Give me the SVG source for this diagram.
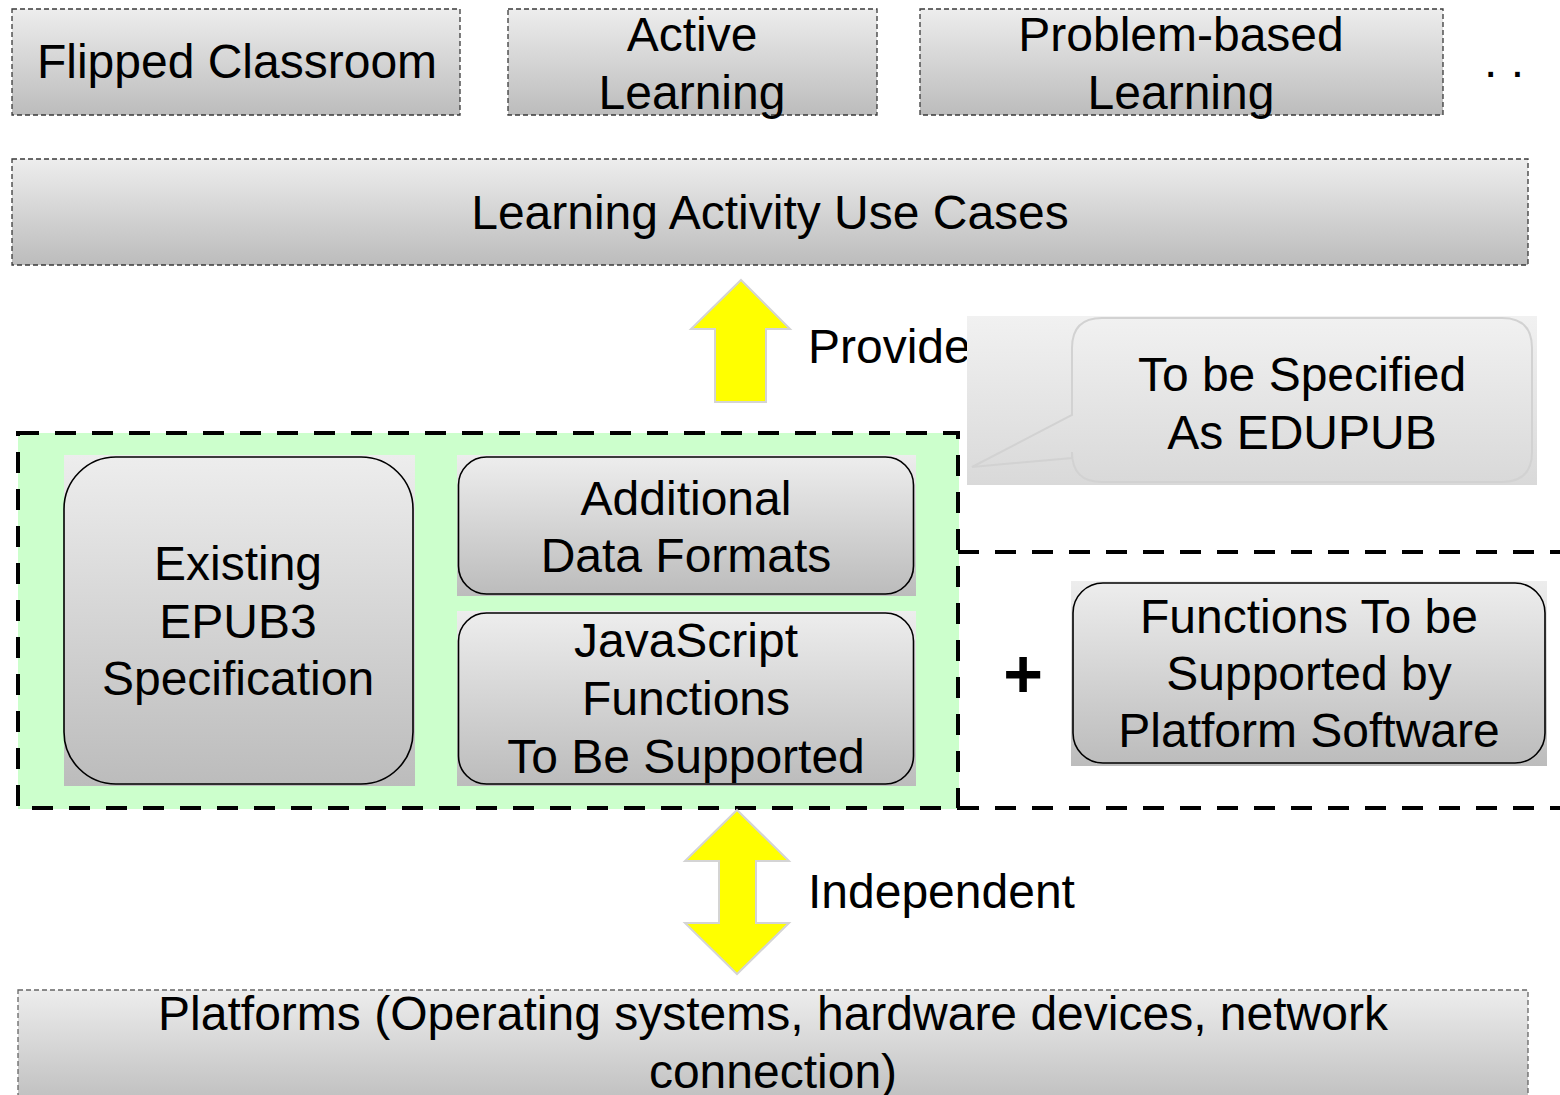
<svg xmlns="http://www.w3.org/2000/svg" width="1560" height="1095" viewBox="0 0 1560 1095">
<defs>
<linearGradient id="gray" x1="0" y1="0" x2="0" y2="1">
<stop offset="0" stop-color="#ededed"/>
<stop offset="1" stop-color="#bcbcbc"/>
</linearGradient>
<linearGradient id="callGrad" x1="0" y1="0" x2="0" y2="1">
<stop offset="0" stop-color="#f1f1f1"/>
<stop offset="1" stop-color="#d9d9d9"/>
</linearGradient>
</defs>
<style>
text{font-family:"Liberation Sans",Arial,sans-serif;font-size:48px;fill:#000;text-anchor:middle}
.thin{fill:url(#gray);stroke:#3a3a3a;stroke-width:1.3;stroke-dasharray:5 3}
.bg{fill:url(#gray);stroke:none}
.rr{fill:url(#gray);stroke:#000;stroke-width:1.6}
.thick{fill:none;stroke:#000;stroke-width:4;stroke-dasharray:21 16}
.arrow{fill:#ffff00;stroke:#d4d4d4;stroke-width:2}
</style>
<rect width="1560" height="1095" fill="#fff"/>

<g id="flipped-classroom">
<rect class="thin" x="12" y="9" width="448" height="106"/>
<text x="237" y="78">Flipped Classroom</text>
</g>
<g id="active-learning">
<rect class="thin" x="508" y="9" width="369" height="106"/>
<text x="692" y="51">Active</text>
<text x="692" y="109">Learning</text>
</g>
<g id="problem-based-learning">
<rect class="thin" x="920" y="9" width="523" height="106"/>
<text x="1181" y="51">Problem-based</text>
<text x="1181" y="109">Learning</text>
</g>
<g id="ellipsis">
<text x="1484" y="77" style="text-anchor:start">. .</text>
</g>
<g id="learning-activity-use-cases">
<rect class="thin" x="12" y="159" width="1516" height="106"/>
<text x="770" y="229">Learning Activity Use Cases</text>
</g>

<g id="provide-label">
<text x="808" y="363" style="text-anchor:start">Provide</text>
</g>

<g id="edupub-callout">
<rect x="967" y="316" width="570" height="169" fill="url(#callGrad)"/>
<path d="M1102 318 H1502 Q1532 318 1532 348 V452 Q1532 482 1502 482 H1102 Q1072 482 1072 452 V458 L972 467 L1072 415 V348 Q1072 318 1102 318 Z" fill="url(#callGrad)" stroke="#d2d2d2" stroke-width="2"/>
<text x="1302" y="391">To be Specified</text>
<text x="1302" y="449">As EDUPUB</text>
</g>

<g id="edupub-group">
<rect x="18" y="433" width="941" height="376" fill="#ccffcc"/>
<rect class="thick" x="18" y="433" width="940" height="375"/>
<path class="thick" d="M958 552 H1562 M958 808 H1562"/>
</g>

<g id="existing-epub3">
<rect class="bg" x="64" y="455" width="351" height="331"/>
<rect class="rr" x="64" y="457" width="349" height="327" rx="52" ry="52"/>
<text x="238" y="580">Existing</text>
<text x="238" y="638">EPUB3</text>
<text x="238" y="695">Specification</text>
</g>

<g id="additional-data-formats">
<rect class="bg" x="457" y="455" width="459" height="141"/>
<rect class="rr" x="458.5" y="457" width="455" height="137" rx="28" ry="28"/>
<text x="686" y="515">Additional</text>
<text x="686" y="572">Data Formats</text>
</g>

<g id="javascript-functions">
<rect class="bg" x="457" y="611" width="459" height="175"/>
<rect class="rr" x="458.5" y="613" width="455" height="171" rx="28" ry="28"/>
<text x="686" y="657">JavaScript</text>
<text x="686" y="715">Functions</text>
<text x="686" y="773">To Be Supported</text>
</g>

<g id="plus">
<text x="1023" y="697" style="font-size:68px;font-weight:bold">+</text>
</g>

<g id="platform-functions">
<rect class="bg" x="1071" y="581" width="476" height="185"/>
<rect class="rr" x="1073" y="583" width="472" height="180" rx="30" ry="30"/>
<text x="1309" y="633">Functions To be</text>
<text x="1309" y="690">Supported by</text>
<text x="1309" y="747">Platform Software</text>
</g>

<g id="independent-label">
<text x="808" y="908" style="text-anchor:start">Independent</text>
</g>

<g id="platforms">
<rect class="thin" x="18" y="990" width="1510" height="120" style="stroke:#666"/>
<text x="773" y="1030">Platforms (Operating systems, hardware devices, network</text>
<text x="773" y="1088">connection)</text>
</g>

<g id="connectors">
<polygon class="arrow" points="741,280 790,329 766,329 766,402 715,402 715,329 691,329"/>
<polygon class="arrow" points="737,810 789,861 756,861 756,923 789,923 737,974 685,923 719,923 719,861 685,861"/>
</g>
</svg>
